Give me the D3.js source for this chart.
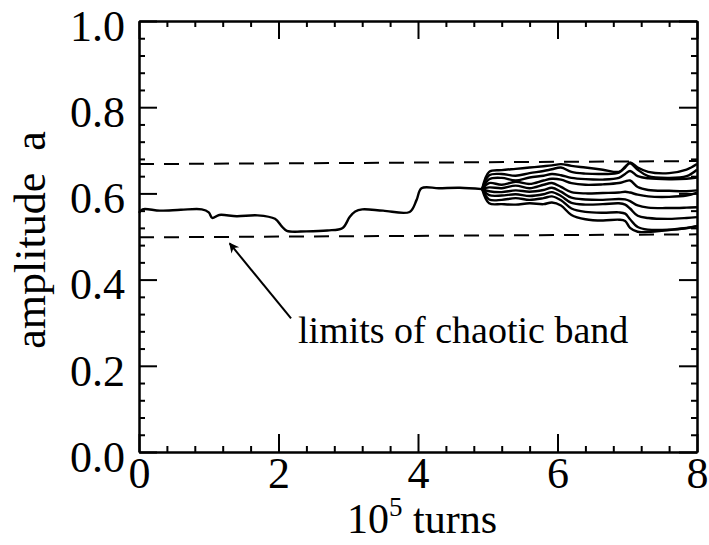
<!DOCTYPE html>
<html lang="en">
<head>
    <meta charset="UTF-8">
    <title>Amplitude vs turns</title>
    <script src="https://d3js.org/d3.v7.min.js"></script>
    <style>
        body { margin: 0; background: #fff; }
        text { font-family: "Liberation Serif", "Times New Roman", serif; fill: #000; }
        .axis path, .axis line { stroke: #000; stroke-width: 2px; }
        .curve { fill: none; stroke: #000; stroke-width: 2.4px; stroke-linejoin: round; }
    </style>
</head>
<body>
<div id="chart"></div>
<script>
    // tick values
    const xTicks = [0, 2, 4, 6, 8];
    const yTicks = [0.0, 0.2, 0.4, 0.6, 0.8, 1.0];

    // chaotic band limits, amplitude at x = 0 and x = 8
    const upperLimit = [0.668, 0.675];
    const lowerLimit = [0.498, 0.505];

    // single trajectory before the split (x in 1e5 turns, amplitude a)
    const mainX = [0, 0.05, 0.3, 0.6, 0.9, 1.0, 1.05, 1.15, 1.4, 1.7, 1.95, 2.05, 2.12, 2.4, 2.7, 2.92, 3.02, 3.1, 3.2, 3.5, 3.88, 3.98, 4.05, 4.3, 4.6, 4.92];
    const mainA = [0.555, 0.563, 0.560, 0.562, 0.563, 0.556, 0.543, 0.550, 0.547, 0.549, 0.541, 0.523, 0.513, 0.512, 0.514, 0.520, 0.545, 0.558, 0.563, 0.560, 0.557, 0.585, 0.612, 0.612, 0.613, 0.610];

    // bundle of trajectories after the split
    const bundleX = [4.92, 5.02, 5.2, 5.4, 5.6, 5.8, 5.92, 6.05, 6.2, 6.4, 6.65, 6.88, 6.97, 7.04, 7.15, 7.3, 7.6, 7.85, 8.0];
    const bundle1 = [0.610, 0.650, 0.654, 0.657, 0.660, 0.663, 0.665, 0.668, 0.664, 0.660, 0.655, 0.650, 0.660, 0.672, 0.660, 0.650, 0.647, 0.655, 0.668];
    const bundle2 = [0.610, 0.642, 0.645, 0.641, 0.647, 0.652, 0.656, 0.660, 0.650, 0.646, 0.645, 0.648, 0.662, 0.670, 0.655, 0.640, 0.636, 0.640, 0.655];
    const bundle3 = [0.610, 0.633, 0.636, 0.630, 0.637, 0.641, 0.645, 0.642, 0.636, 0.633, 0.632, 0.636, 0.645, 0.652, 0.640, 0.635, 0.633, 0.634, 0.637];
    const bundle4 = [0.610, 0.624, 0.620, 0.627, 0.622, 0.630, 0.634, 0.632, 0.624, 0.620, 0.621, 0.624, 0.628, 0.630, 0.615, 0.608, 0.606, 0.605, 0.607];
    const bundle5 = [0.610, 0.614, 0.612, 0.618, 0.612, 0.620, 0.624, 0.615, 0.603, 0.600, 0.601, 0.602, 0.604, 0.602, 0.597, 0.593, 0.592, 0.595, 0.602];
    const bundle6 = [0.610, 0.605, 0.603, 0.607, 0.604, 0.608, 0.613, 0.604, 0.590, 0.586, 0.585, 0.587, 0.586, 0.582, 0.572, 0.567, 0.566, 0.567, 0.568];
    const bundle7 = [0.610, 0.596, 0.595, 0.598, 0.594, 0.598, 0.603, 0.594, 0.578, 0.574, 0.575, 0.577, 0.574, 0.565, 0.548, 0.543, 0.541, 0.543, 0.545];
    const bundle8 = [0.610, 0.586, 0.585, 0.589, 0.585, 0.589, 0.593, 0.584, 0.565, 0.557, 0.555, 0.556, 0.553, 0.540, 0.522, 0.516, 0.516, 0.520, 0.524];
    const bundle9 = [0.610, 0.577, 0.575, 0.574, 0.577, 0.575, 0.579, 0.572, 0.550, 0.540, 0.537, 0.539, 0.536, 0.520, 0.511, 0.511, 0.515, 0.519, 0.524];
    const bundles = [bundle1, bundle2, bundle3, bundle4, bundle5, bundle6, bundle7, bundle8, bundle9];

    const width = 709, height = 545;
    const margin = { top: 21, right: 12, bottom: 93, left: 139 };
    const innerW = width - margin.left - margin.right;
    const innerH = height - margin.top - margin.bottom;

    const x = d3.scaleLinear().domain([0, 8]).range([0, innerW]);
    const y = d3.scaleLinear().domain([0, 1]).range([innerH, 0]);

    const svg = d3.select("#chart").append("svg")
        .attr("width", width)
        .attr("height", height);

    const g = svg.append("g")
        .attr("transform", `translate(${margin.left},${margin.top})`);

    const xMinor = d3.range(0, 8.001, 0.4).filter(v => Math.abs(v / 2 - Math.round(v / 2)) > 0.01);
    const yMinor = d3.range(0, 1.0001, 0.04).filter(v => Math.abs(v / 0.2 - Math.round(v / 0.2)) > 0.01);

    // bottom axis with labels
    g.append("g").attr("class", "axis")
        .attr("transform", `translate(0,${innerH})`)
        .call(d3.axisBottom(x).tickValues(xTicks).tickSize(-18).tickSizeOuter(0).tickPadding(5).tickFormat(d3.format("d")))
        .call(a => a.selectAll("text").style("font-size", "44px"));
    g.append("g").attr("class", "axis")
        .attr("transform", `translate(0,${innerH})`)
        .call(d3.axisBottom(x).tickValues(xMinor).tickSize(-6).tickSizeOuter(0).tickFormat(""));

    // top axis
    g.append("g").attr("class", "axis")
        .call(d3.axisTop(x).tickValues(xTicks).tickSize(-18).tickSizeOuter(0).tickFormat(""));
    g.append("g").attr("class", "axis")
        .call(d3.axisTop(x).tickValues(xMinor).tickSize(-6).tickSizeOuter(0).tickFormat(""));

    // left axis with labels
    g.append("g").attr("class", "axis")
        .call(d3.axisLeft(y).tickValues(yTicks).tickSize(-18).tickSizeOuter(0).tickPadding(14).tickFormat(d3.format(".1f")))
        .call(a => a.selectAll("text").style("font-size", "44px").attr("dy", "0.44em"));
    g.append("g").attr("class", "axis")
        .call(d3.axisLeft(y).tickValues(yMinor).tickSize(-6).tickSizeOuter(0).tickFormat(""));

    // right axis
    g.append("g").attr("class", "axis")
        .attr("transform", `translate(${innerW},0)`)
        .call(d3.axisRight(y).tickValues(yTicks).tickSize(-18).tickSizeOuter(0).tickFormat(""));
    g.append("g").attr("class", "axis")
        .attr("transform", `translate(${innerW},0)`)
        .call(d3.axisRight(y).tickValues(yMinor).tickSize(-6).tickSizeOuter(0).tickFormat(""));

    // band limits
    g.selectAll(".limit")
        .data([upperLimit, lowerLimit])
        .enter().append("line")
        .attr("class", "limit")
        .attr("x1", x(0)).attr("x2", x(8))
        .attr("y1", d => y(d[0])).attr("y2", d => y(d[1]))
        .attr("stroke", "#000")
        .attr("stroke-width", 2)
        .attr("stroke-dasharray", "15,10");

    const line = d3.line()
        .x(d => x(d[0]))
        .y(d => y(d[1]))
        .curve(d3.curveCatmullRom.alpha(0.5));

    g.append("path")
        .attr("class", "curve")
        .attr("stroke-width", 3)
        .attr("d", line(d3.zip(mainX, mainA)));

    g.selectAll(".bundle")
        .data(bundles)
        .enter().append("path")
        .attr("class", "curve bundle")
        .attr("d", vals => line(d3.zip(bundleX, vals)));

    // annotation arrow
    svg.append("defs").append("marker")
        .attr("id", "arrowhead")
        .attr("viewBox", "0 -5 10 10")
        .attr("refX", 9)
        .attr("refY", 0)
        .attr("markerWidth", 14)
        .attr("markerHeight", 10)
        .attr("markerUnits", "userSpaceOnUse")
        .attr("orient", "auto")
        .append("path")
        .attr("d", "M0,-5L10,0L0,5L3,0Z")
        .attr("fill", "#000");

    g.append("line")
        .attr("x1", x(2.18)).attr("y1", y(0.31))
        .attr("x2", x(1.30)).attr("y2", y(0.484))
        .attr("stroke", "#000")
        .attr("stroke-width", 2)
        .attr("marker-end", "url(#arrowhead)");

    g.append("text")
        .attr("x", x(2.28))
        .attr("y", y(0.253))
        .style("font-size", "38px")
        .text("limits of chaotic band");

    // axis titles
    const xt = svg.append("text")
        .attr("x", 347)
        .attr("y", 533)
        .style("font-size", "42px");
    xt.append("tspan").text("10");
    xt.append("tspan").attr("dy", -17).style("font-size", "27px").text("5");
    xt.append("tspan").attr("dy", 17).text(" turns");

    svg.append("text")
        .attr("transform", "translate(45,240) rotate(-90)")
        .attr("text-anchor", "middle")
        .style("font-size", "44px")
        .style("white-space", "pre")
        .text("amplitude  a");
</script>
</body>
</html>
